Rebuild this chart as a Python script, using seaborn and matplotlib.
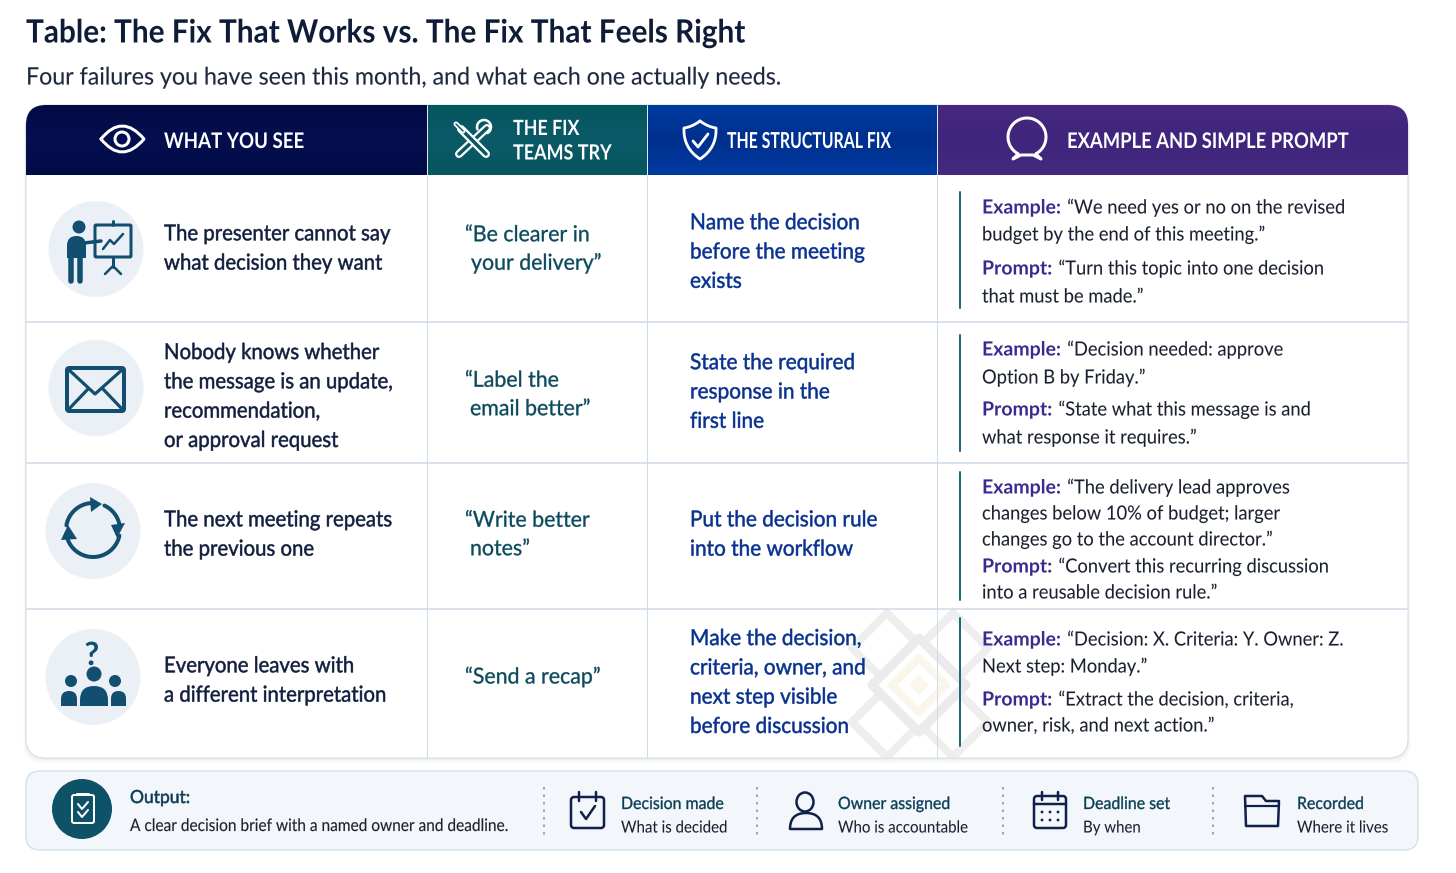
import numpy as np
import matplotlib
matplotlib.use("Agg")
import matplotlib.pyplot as plt
from matplotlib.path import Path
from matplotlib.patches import PathPatch, Circle, Ellipse, Polygon
from matplotlib.patheffects import AbstractPathEffect
from matplotlib.transforms import Affine2D
import seaborn as sns

TITLE = "Table: The Fix That Works vs. The Fix That Feels Right"
SUBTITLE = "Four failures you have seen this month, and what each one actually needs."
HEADERS = [["WHAT YOU SEE"], ["THE FIX", "TEAMS TRY"], ["THE STRUCTURAL FIX"], ["EXAMPLE AND SIMPLE PROMPT"]]
HEADER_TOP = ["#000b45", "#06565f", "#003a9f", "#45297f"]
HEADER_MID = ["#050f50", "#0b5a68", "#00308f", "#40257d"]
WHAT_YOU_SEE = [
    ["The presenter cannot say", "what decision they want"],
    ["Nobody knows whether", "the message is an update,", "recommendation,", "or approval request"],
    ["The next meeting repeats", "the previous one"],
    ["Everyone leaves with", "a different interpretation"],
]
TEAM_FIX = [
    ["\u201cBe clearer in", "your delivery\u201d"],
    ["\u201cLabel the", "email better\u201d"],
    ["\u201cWrite better", "notes\u201d"],
    ["\u201cSend a recap\u201d"],
]
STRUCTURAL_FIX = [
    ["Name the decision", "before the meeting", "exists"],
    ["State the required", "response in the", "first line"],
    ["Put the decision rule", "into the workflow"],
    ["Make the decision,", "criteria, owner, and", "next step visible", "before discussion"],
]
EXAMPLES = [
    [("Example:", "\u201cWe need yes or no on the revised"), ("", "budget by the end of this meeting.\u201d"),
     ("Prompt:", "\u201cTurn this topic into one decision"), ("", "that must be made.\u201d")],
    [("Example:", "\u201cDecision needed: approve"), ("", "Option B by Friday.\u201d"),
     ("Prompt:", "\u201cState what this message is and"), ("", "what response it requires.\u201d")],
    [("Example:", "\u201cThe delivery lead approves"), ("", "changes below 10% of budget; larger"),
     ("", "changes go to the account director.\u201d"),
     ("Prompt:", "\u201cConvert this recurring discussion"), ("", "into a reusable decision rule.\u201d")],
    [("Example:", "\u201cDecision: X. Criteria: Y. Owner: Z."), ("", "Next step: Monday.\u201d"),
     ("Prompt:", "\u201cExtract the decision, criteria,"), ("", "owner, risk, and next action.\u201d")],
]
OUTPUT_HEAD = "Output:"
OUTPUT_TEXT = "A clear decision brief with a named owner and deadline."
CHIPS = [("Decision made", "What is decided"), ("Owner assigned", "Who is accountable"),
         ("Deadline set", "By when"), ("Recorded", "Where it lives")]

# ---- layout (pixels) ----
W, H = 1456, 873
COLS = [26, 427, 647, 937, 1408]
TOP, HEAD_BOT, BOT = 105, 175, 758
ROWS = [175, 322, 463, 609, 758]
COL1_C = [247.5, 395.5, 533.5, 679.5]
COL2_C = [248, 393.5, 533.5, 676]
COL2_X = [[465, 471], [465, 470], [465, 470], [465]]
COL3_C = [251, 391, 533.5, 681.5]
COL4_Y = [[207, 234, 268, 296], [349, 377, 409, 437], [487, 513, 539, 566, 592], [639, 666, 699, 725]]
BARS = [(192, 308), (335, 451), (472, 600), (618, 746)]
ICON_C = [(96, 249), (96, 388), (93, 531), (93, 677)]

sns.set_theme(style="white")
FONT = ["Lato", "DejaVu Sans"]
plt.rcParams["font.family"] = FONT
fig = plt.figure(figsize=(W / 100, H / 100), dpi=100, facecolor="white")
ax = fig.add_axes([0, 0, 1, 1])
sns.despine(ax=ax, left=True, bottom=True)
ax.set_axis_off()
PX = 0.72
ICON = "#124e70"
NAVY = "#10204d"
INK = "#111d3d"
TEAL = "#0b4a5c"
BLUE = "#07308f"
PURPLE = "#3a2a8f"
BODY = "#1a2030"


class Squeeze(AbstractPathEffect):
    """Narrow a text line about its start and optionally thicken it."""

    def __init__(self, sx=1.0, bold=0.0):
        super().__init__()
        self.sx, self.bold = sx, bold

    def draw_path(self, renderer, gc, tpath, affine, rgbFace=None):
        new_affine = Affine2D().scale(self.sx, 1) + affine
        gc0 = renderer.new_gc()
        gc0.copy_properties(gc)
        if self.bold and rgbFace is not None:
            gc0.set_linewidth(self.bold)
            gc0.set_foreground(rgbFace)
        renderer.draw_path(gc0, tpath, new_affine, rgbFace)
        gc0.restore()


def rrect(x0, y0, x1, y1, tl=0, tr=0, br=0, bl=0):
    v = [(x0 + tl, y0), (x1 - tr, y0), (x1, y0), (x1, y0 + tr), (x1, y1 - br), (x1, y1), (x1 - br, y1),
         (x0 + bl, y1), (x0, y1), (x0, y1 - bl), (x0, y0 + tl), (x0, y0), (x0 + tl, y0), (x0 + tl, y0)]
    c = [Path.MOVETO, Path.LINETO, Path.CURVE3, Path.CURVE3, Path.LINETO, Path.CURVE3, Path.CURVE3,
         Path.LINETO, Path.CURVE3, Path.CURVE3, Path.LINETO, Path.CURVE3, Path.CURVE3, Path.CLOSEPOLY]
    return Path(v, c)


def patch(path, fc="none", ec="none", lw=0, z=2, alpha=None):
    p = PathPatch(path, facecolor=fc, edgecolor=ec, linewidth=lw * PX, zorder=z, alpha=alpha,
                  capstyle="round", joinstyle="round")
    ax.add_patch(p)
    return p


def line(xs, ys, color, lw=2.5, z=4, ls="-"):
    ax.plot(xs, ys, color=color, lw=lw * PX, zorder=z, solid_capstyle="round", solid_joinstyle="round", ls=ls)


def circ(x, y, r, fc="none", ec="none", lw=0, z=4):
    ax.add_patch(Circle((x, y), r, facecolor=fc, edgecolor=ec, linewidth=lw * PX, zorder=z))


def arc(cx, cy, r, a0, a1, color, lw=3, z=4):
    t = np.radians(np.linspace(a0, a1, 40))
    line(cx + r * np.cos(t), cy - r * np.sin(t), color, lw, z)


def tri(pts, color, z=4):
    ax.add_patch(Polygon(pts, closed=True, facecolor=color, edgecolor="none", zorder=z))


def dome(x0, x1, ytop, ybot, color, z=4):
    m = (x0 + x1) / 2
    h = min((x1 - x0) / 2, ybot - ytop)
    v = [(x0, ybot), (x0, ytop + h), (x0, ytop), (m, ytop), (x1, ytop), (x1, ytop + h), (x1, ybot), (x0, ybot)]
    c = [Path.MOVETO, Path.LINETO, Path.CURVE3, Path.CURVE3, Path.CURVE3, Path.CURVE3, Path.LINETO, Path.CLOSEPOLY]
    patch(Path(v, c), fc=color, z=z)


def txt(x, y, s, px, color, weight="normal", ha="left", z=6, sx=1.0, bold=0.0):
    t = ax.text(x, y, s, fontsize=px * PX, color=color, fontweight=weight, ha=ha, va="baseline",
                family=FONT, zorder=z)
    t.set_path_effects([Squeeze(sx, bold)])
    return t


# ---- title ----
txt(26, 42.5, TITLE, 32, "#0f1c38", "bold", sx=0.93)
txt(26, 84.5, SUBTITLE, 24, "#1d2740", sx=0.967, bold=0.1)

# ---- table card with soft shadow ----
for i, a in zip((6, 4, 2), (0.02, 0.03, 0.05)):
    patch(rrect(26 - i / 2, TOP + 6, 1408 + i / 2, BOT + i, 20, 20, 20, 20), fc="#5a7088", z=0.5, alpha=a)
patch(rrect(26, TOP, 1408, BOT, 20, 20, 20, 20), fc="white", z=1)


# ---- watermark behind the text ----
def diamond(cx, cy, h, **kw):
    return patch(Path([(cx - h, cy), (cx, cy - h), (cx + h, cy), (cx, cy + h), (cx - h, cy)], closed=True), **kw)


for cx, cy in [(887, 648), (953, 648), (887, 722), (953, 722)]:
    diamond(cx, cy, 35, ec="#eeeeee", lw=8, z=1.5)
diamond(919, 685, 47, ec="#ebebeb", lw=9, z=1.6, fc="white")
diamond(919, 685, 27, ec="#faf6ec", lw=8, z=1.7)
diamond(919, 685, 10, fc="#fbf7ec", z=1.7)

# ---- grid ----
GRID = "#cedbe8"
for y in ROWS[1:-1]:
    line([26, 1408], [y, y], GRID, 1.5, 2)
for x in COLS[1:-1]:
    line([x, x], [HEAD_BOT, BOT], GRID, 1, 2)
patch(rrect(26, TOP, 1408, BOT, 20, 20, 20, 20), ec="#d5dfe8", lw=1, z=2)

# ---- header band ----
head_clip = patch(rrect(26, TOP, 1408, HEAD_BOT, tl=20, tr=20), z=2.5)
for i in range(4):
    cmap = sns.blend_palette([HEADER_TOP[i], HEADER_MID[i], HEADER_TOP[i]], n_colors=64, as_cmap=True)
    im = ax.imshow(np.linspace(0, 1, 64).reshape(-1, 1), cmap=cmap, aspect="auto", zorder=3,
                   extent=(COLS[i], COLS[i + 1], HEAD_BOT, TOP))
    im.set_clip_path(head_clip)
for x in COLS[1:-1]:
    line([x, x], [TOP, HEAD_BOT], "#dfe7ef", 1, 3.5)
ax.set_xlim(0, W)
ax.set_ylim(H, 0)

txt(164, 148, HEADERS[0][0], 21.5, "white", "bold", sx=0.87)
txt(513, 135, HEADERS[1][0], 21, "white", "bold", sx=0.85)
txt(513, 159.5, HEADERS[1][1], 21, "white", "bold", sx=0.855)
txt(727, 148, HEADERS[2][0], 22, "white", "bold", sx=0.72)
txt(1067, 148, HEADERS[3][0], 21.5, "white", "bold", sx=0.857)

# header icons
WH = "white"
patch(Path([(101, 139), (122, 113), (144, 139), (122, 165), (101, 139)],
           [Path.MOVETO, Path.CURVE3, Path.CURVE3, Path.CURVE3, Path.CURVE3]), ec=WH, lw=3, z=5)
circ(122, 139, 7, ec=WH, lw=3, z=5)
# tools
line([459, 487], [154, 128], WH, 8, 5)
line([459, 487], [154, 128], "#0a5764", 3.5, 5.1)
arc(484, 127, 7, -60, 200, WH, 2.5, 5.2)
line([461, 486], [129, 154], WH, 8, 5.3)
line([461, 486], [129, 154], "#0a5764", 3.5, 5.4)
line([456, 463], [124, 131], WH, 5, 5.5)
line([456, 463], [124, 131], "#0a5764", 1.5, 5.6)
# shield
sh = Path([(700, 121), (708, 127), (716, 128), (717, 148), (700, 159), (683, 148), (684, 128), (692, 127), (700, 121)],
          [Path.MOVETO, Path.CURVE3, Path.LINETO, Path.CURVE3, Path.CURVE3, Path.CURVE3, Path.LINETO, Path.CURVE3, Path.CURVE3])
patch(sh, ec=WH, lw=2.8, z=5)
line([693, 698, 708], [141, 147, 134], WH, 2.8, 5)
# speech bubble
arc(1027, 137, 19, -62, 242, WH, 3, 5)
line([1018, 1013, 1021, 1033, 1041, 1036], [154, 159, 155, 155, 159, 154], WH, 3, 5)

# ---- body text ----
for r in range(4):
    for col_lines, cy, x, color, s_x in ((WHAT_YOU_SEE[r], COL1_C[r], 164, INK, 0.925),
                                         (STRUCTURAL_FIX[r], COL3_C[r], 690, BLUE, 0.945)):
        n = len(col_lines)
        for k, s in enumerate(col_lines):
            txt(x, cy + (k - (n - 1) / 2) * 29.3 + 7.5, s, 22, color, sx=s_x, bold=0.35)
    n = len(TEAM_FIX[r])
    for k, s in enumerate(TEAM_FIX[r]):
        txt(COL2_X[r][k], COL2_C[r] + (k - (n - 1) / 2) * 28.5 + 7.5, s, 22, TEAL, sx=0.97, bold=0.25)
    line([960, 960], BARS[r], "#1c6a78", 2, 4)
    for (lab, rest), y in zip(EXAMPLES[r], COL4_Y[r]):
        x = 982
        if lab:
            t = txt(x, y + 6.5, lab, 19.5, PURPLE, "bold")
            x += t.get_window_extent(fig.canvas.get_renderer()).width + 6
        txt(x, y + 6.5, rest, 19.5, BODY, sx=0.94, bold=0.05)

# ---- row icons ----
for cx, cy in ICON_C:
    ax.add_patch(Ellipse((cx, cy), 95, 96, facecolor="#eaf0f6", edgecolor="none", zorder=2))
# presenter
circ(79, 227, 6.5, fc=ICON)
dome(67, 86, 236, 258, ICON)
line([71, 71], [255, 281], ICON, 5.5)
line([80, 80], [255, 281], ICON, 5.5)
line([84, 101], [243, 241], ICON, 3.5)
patch(rrect(95, 225, 131, 257, 1, 1, 1, 1), ec=ICON, lw=3, z=4)
line([113, 113], [221, 225], ICON, 3)
line([113, 113], [257, 267], ICON, 3)
line([105, 113, 121], [274, 266, 274], ICON, 2.5)
line([103, 110, 114, 123], [249, 240, 244, 234], ICON, 2.5)
# envelope
patch(rrect(67, 368, 124, 411, 2, 2, 2, 2), ec=ICON, lw=4, z=4)
line([68, 95, 123], [369, 394, 369], ICON, 3.2)
line([68, 88], [410, 389], ICON, 3.2)
line([123, 103], [410, 389], ICON, 3.2)
# cycle
arc(93, 530, 27, 170, 95, ICON, 4)
tri([(90, 497), (102, 504), (91, 512)], ICON)
arc(93, 530, 27, 65, 8, ICON, 4)
tri([(111, 525), (125, 523), (117, 538)], ICON)
arc(93, 530, 27, -12, -172, ICON, 4)
tri([(61, 540), (68, 525), (77, 539)], ICON)
# people
txt(84.5, 665, "?", 32, ICON, "bold")
circ(94, 674, 7.5, fc=ICON)
dome(80, 108, 686, 706, ICON)
circ(71, 681, 6, fc=ICON)
circ(115, 681, 6, fc=ICON)
dome(61, 77, 691, 706, ICON)
dome(111, 126, 691, 706, ICON)

# ---- output strip ----
patch(rrect(26, 771, 1418, 850, 14, 14, 14, 14), fc="#f3f7fb", ec="#cfe0e8", lw=1.3, z=1)
circ(82, 809, 30, fc="#0e5268", z=2)
patch(rrect(72, 795, 94, 823, 2, 2, 2, 2), ec="white", lw=2, z=4)
line([77, 89], [794, 794], "white", 2)
line([78, 82, 88], [804, 809, 802], "white", 2)
line([78, 82, 88], [812, 817, 810], "white", 2)
txt(130, 803, OUTPUT_HEAD, 18, "#0b3d55", sx=0.97, bold=0.4)
txt(130, 831, OUTPUT_TEXT, 17.2, BODY, sx=0.898, bold=0.1)

for x in (544, 757, 1003, 1213):
    ax.plot([x, x], [787, 835], color="#8d98a5", lw=1.2, ls=(0, (1.5, 3)), zorder=3)
for (a, b), x in zip(CHIPS, (621, 838, 1083, 1297)):
    txt(x, 809, a, 17, "#0b3d55", sx=0.935, bold=0.25)
    txt(x, 832.5, b, 16.5, BODY, sx=0.91, bold=0.05)
# chip icons
patch(rrect(571, 797, 604, 828, 3, 3, 3, 3), ec=NAVY, lw=2.5, z=4)
line([579, 579], [792, 801], NAVY, 2.5)
line([596, 596], [792, 801], NAVY, 2.5)
line([581, 586, 595], [812, 819, 806], NAVY, 2.5)
ax.add_patch(Ellipse((805, 802), 17, 19, facecolor="none", edgecolor=NAVY, linewidth=2.5 * PX, zorder=4))
patch(Path([(790, 829), (790, 813), (806, 813), (822, 813), (822, 829), (790, 829)],
           [Path.MOVETO, Path.CURVE3, Path.CURVE3, Path.CURVE3, Path.CURVE3, Path.CLOSEPOLY]), ec=NAVY, lw=2.5, z=4)
patch(rrect(1034, 796, 1066, 828, 3, 3, 3, 3), ec=NAVY, lw=2.5, z=4)
line([1034, 1066], [804, 804], NAVY, 2.5)
line([1042, 1042], [792, 800], NAVY, 2.5)
line([1058, 1058], [792, 800], NAVY, 2.5)
for px_ in (1042, 1050, 1058):
    for py_ in (812, 820):
        circ(px_, py_, 1.4, fc=NAVY)
patch(Path([(1246, 826), (1245, 796), (1262, 796), (1266, 801), (1279, 801), (1278, 826), (1246, 826)], closed=True),
      ec=NAVY, lw=2.5, z=4)
line([1245, 1279], [806, 806], NAVY, 2.2)

ax.set_xlim(0, W)
ax.set_ylim(H, 0)
fig.savefig("out.png", dpi=100, facecolor="white")
